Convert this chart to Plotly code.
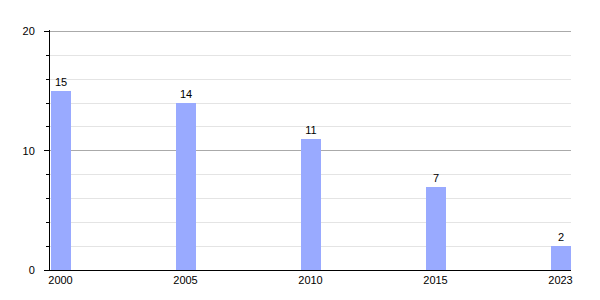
import plotly.graph_objects as go

years = ["2000", "2005", "2010", "2015", "2023"]
values = [15, 14, 11, 7, 2]

fig = go.Figure(go.Bar(
    x=years, y=values, width=0.16,
    marker=dict(color="#99aaff", line=dict(width=0)),
    text=[str(v) for v in values], textposition="outside",
    textfont=dict(family="Liberation Sans, Arial", size=11, color="#000"),
    cliponaxis=False,
))
fig.update_layout(
    width=600, height=300,
    margin=dict(l=50, r=29, t=30, b=30),
    paper_bgcolor="white", plot_bgcolor="white",
    font=dict(family="Liberation Sans, Arial", size=11, color="#000"),
    showlegend=False,
    bargap=0,
)
fig.update_xaxes(
    type="category", range=[-0.084, 4.084],
    showline=True, linecolor="black", linewidth=1,
    showgrid=False, ticks="", tickfont=dict(size=11),
)
fig.update_yaxes(
    range=[0, 20.12], dtick=10, tick0=0,
    showline=True, linecolor="black", linewidth=1,
    showgrid=True, gridcolor="#aaaaaa", gridwidth=1,
    ticks="outside", ticklen=5, tickcolor="black",
    ticklabelstandoff=7,
    zeroline=False, tickfont=dict(size=11),
    minor=dict(dtick=2, showgrid=True, gridcolor="#e4e4e4",
               ticks="outside", ticklen=3, tickcolor="black"),
)
fig.write_html("out.html")
